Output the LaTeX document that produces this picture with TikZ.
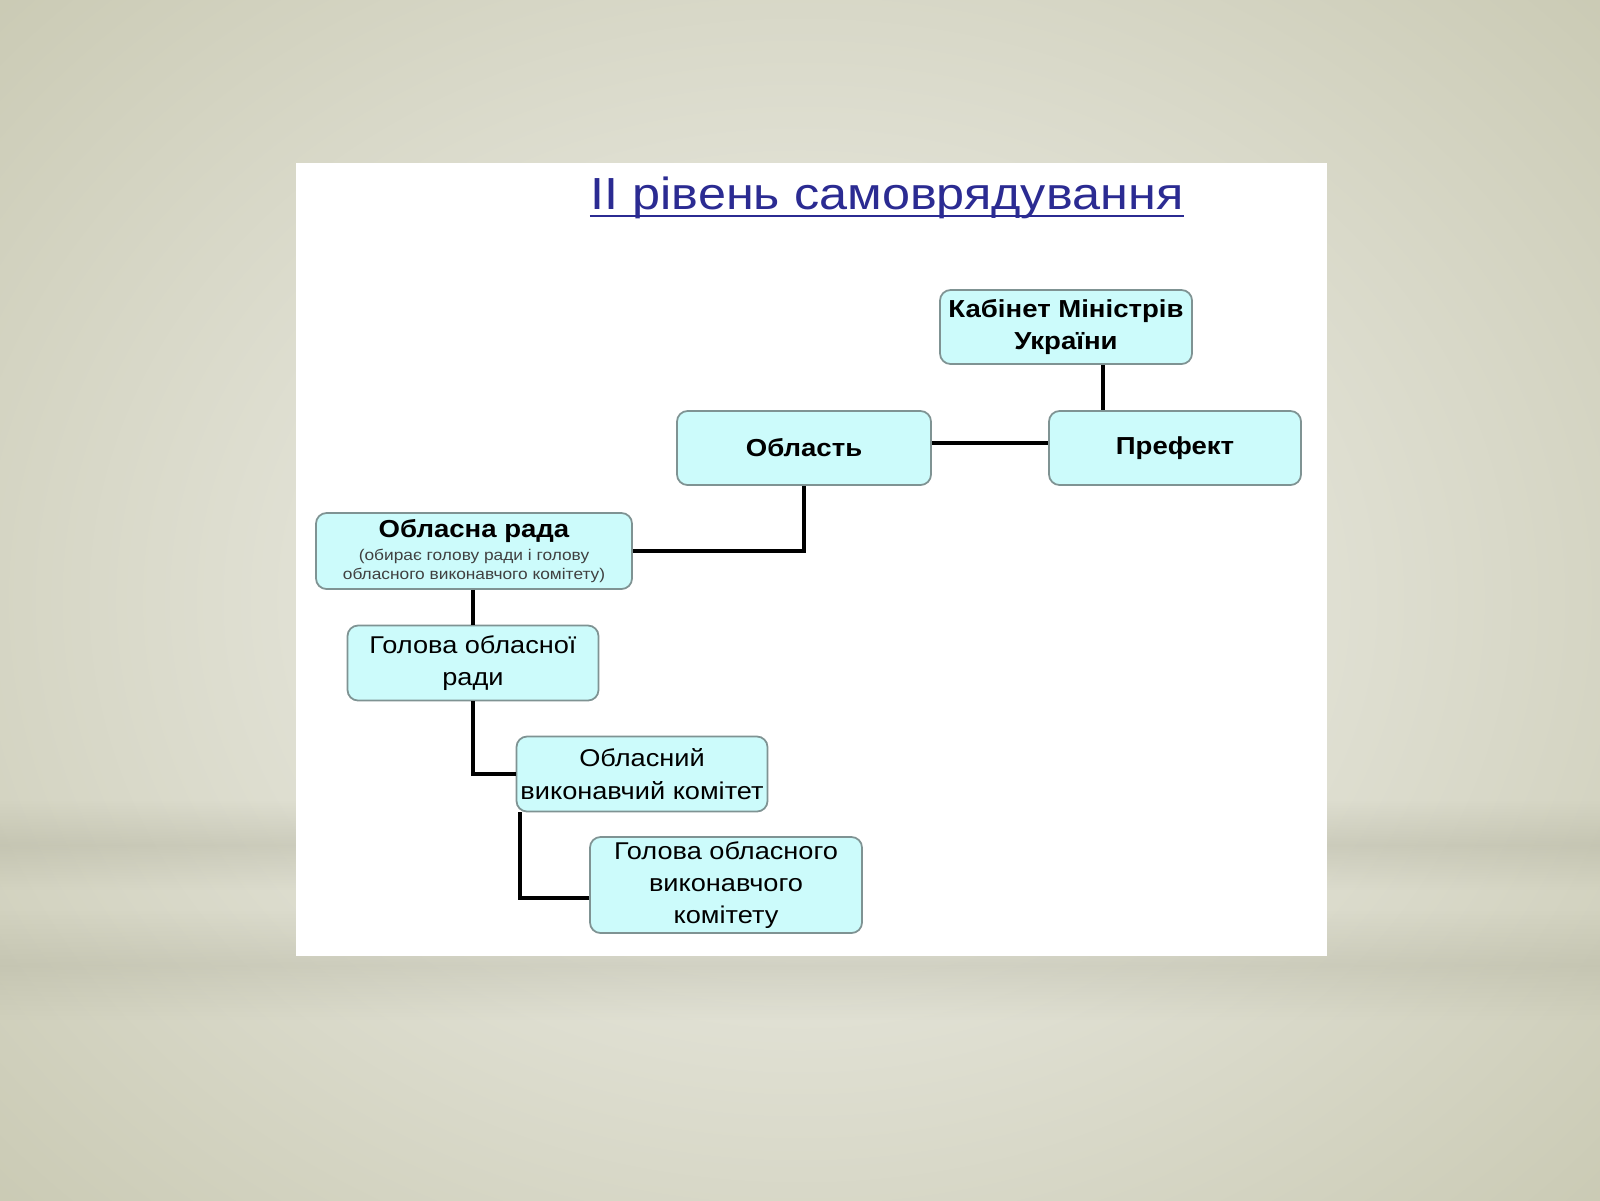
\documentclass[tikz,border=0pt]{standalone}
\usepackage{fontspec}
\setmainfont[FakeStretch=1.12]{Liberation Sans}
\usepackage{xcolor}
\usetikzlibrary{positioning,fadings}

\definecolor{slidebg}{HTML}{CACAB4}
\definecolor{slidelight}{HTML}{F3F3EE}
\definecolor{boxfill}{HTML}{CCFBFB}
\definecolor{boxline}{HTML}{7F9393}
\definecolor{titleblue}{HTML}{2B2B92}
\definecolor{notegray}{HTML}{404040}

\tikzfading[name=bandfade, top color=transparent!100,
            bottom color=transparent!100, middle color=transparent!0]

\newcommand{\notefont}{\mdseries\fontsize{4.4}{5.6}\selectfont\color{notegray}}

\begin{document}
\begin{tikzpicture}[
  box/.style={draw=boxline, line width=0.5pt, rounded corners=3pt,
              fill=boxfill, align=center, inner sep=0pt,
              font=\fontsize{6.9}{9.2}\selectfont},
  bbox/.style={box, font=\bfseries\fontsize{7}{9}\selectfont},
  conn/.style={line width=1.1pt, black},
]
  % background of the slide
  \useasboundingbox (0,0) rectangle (16,-12);
  \begin{scope}
    \clip (0,0) rectangle (16,-12);
    \shade[inner color=slidelight, outer color=slidebg] (-3,3) rectangle (19,-15);
    \fill[slidebg!85!black, opacity=0.35, path fading=bandfade] (0,-8.0) rectangle (16,-8.9);
    \fill[slidebg!85!black, opacity=0.3, path fading=bandfade] (0,-9.1) rectangle (16,-10.2);
  \end{scope}
  \fill[white] (2.96,-1.63) rectangle (13.27,-9.56);

  \node (title) at (8.87,-1.98)
        [font=\fontsize{12.8}{14}\selectfont, text=titleblue, inner sep=0pt]
        {ІІ рівень самоврядування};
  \draw[titleblue, line width=0.8pt]
        ([yshift=-1.8pt]title.base west) -- ([yshift=-1.8pt]title.base east);

  \node (kmu) at (10.66,-3.27) [bbox, minimum width=2.52cm, minimum height=0.74cm]
        {Кабінет Міністрів\\України};
  \node (obl) at (8.04,-4.48) [bbox, minimum width=2.54cm, minimum height=0.74cm]
        {Область};
  \node (pref) at (11.75,-4.48) [bbox, minimum width=2.52cm, minimum height=0.74cm]
        {Префект};
  \node (rada) at (4.74,-5.51) [box, minimum width=3.16cm, minimum height=0.76cm,
        font=\bfseries\fontsize{7}{8.5}\selectfont]
        {Обласна рада\\[-2pt]
         \notefont (обирає голову ради і голову\\[-3pt]
         \notefont обласного виконавчого комітету)};
  \node (hol) at (4.73,-6.63) [box, minimum width=2.51cm, minimum height=0.75cm]
        {Голова обласної\\ради};
  \node (vyk) at (6.42,-7.74) [box, minimum width=2.51cm, minimum height=0.75cm]
        {Обласний\\виконавчий комітет};
  \node (holvyk) at (7.26,-8.85) [box, minimum width=2.72cm, minimum height=0.96cm]
        {Голова обласного\\виконавчого\\комітету};

  \coordinate (kmuc) at ([xshift=3.7mm]kmu.south);
  \coordinate (vykc) at ([xshift=0.4mm]vyk.south west);

  \draw[conn] (kmuc) -- (kmuc |- pref.north);
  \draw[conn] ([yshift=0.5mm]obl.east) -- ([yshift=0.5mm]pref.west);
  \draw[conn] (obl.south) |- (rada.east);
  \draw[conn] (hol.north |- rada.south) -- (hol.north);
  \draw[conn] (hol.south) |- (vyk.west);
  \draw[conn] (vykc) |- ([yshift=-1.3mm]holvyk.west);
\end{tikzpicture}
\end{document}
